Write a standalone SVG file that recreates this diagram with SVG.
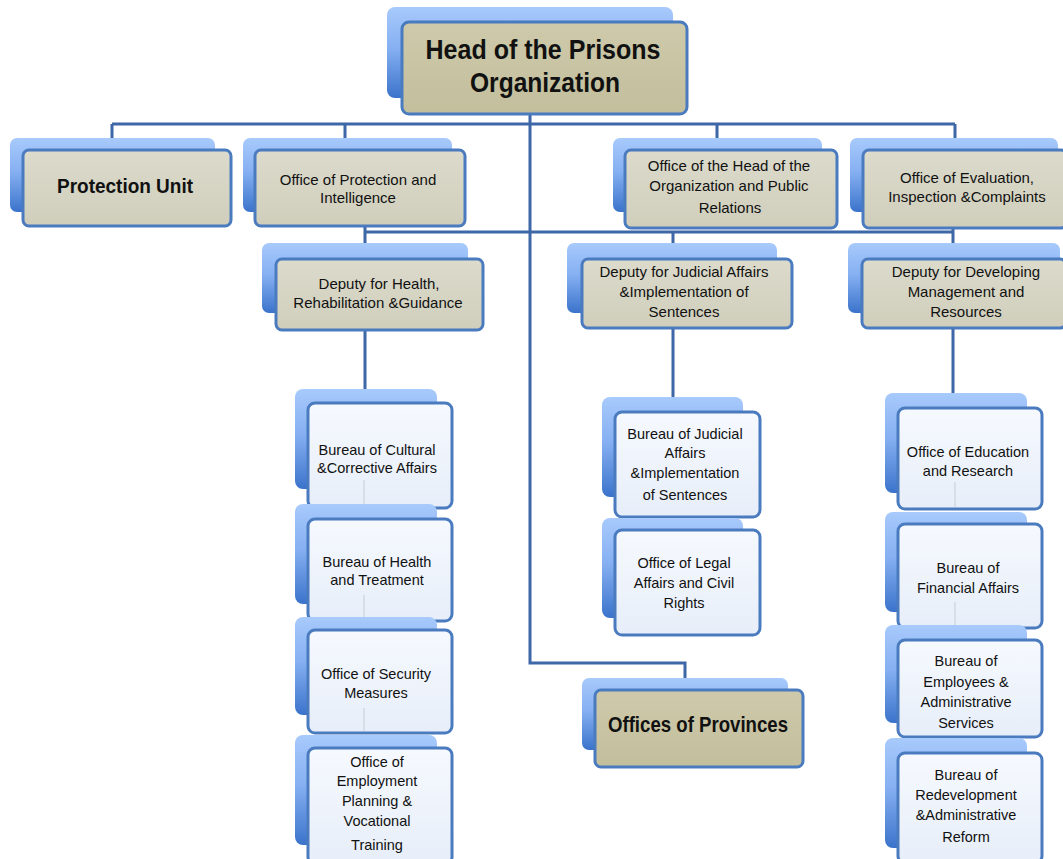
<svg xmlns="http://www.w3.org/2000/svg" width="1063" height="859" viewBox="0 0 1063 859">
<defs>
<linearGradient id="gb" x1="0" y1="0" x2="0" y2="1"><stop offset="0" stop-color="#a8cafc"/><stop offset="0.45" stop-color="#86b0f2"/><stop offset="1" stop-color="#3b73cb"/></linearGradient>
<linearGradient id="gk" x1="0" y1="0" x2="0" y2="1"><stop offset="0" stop-color="#dcdbcc"/><stop offset="1" stop-color="#d0cebb"/></linearGradient>
<linearGradient id="gt" x1="0" y1="0" x2="0" y2="1"><stop offset="0" stop-color="#cdc9aa"/><stop offset="1" stop-color="#c3bf9d"/></linearGradient>
<linearGradient id="gw" x1="0" y1="0" x2="0" y2="1"><stop offset="0" stop-color="#f6f9fe"/><stop offset="1" stop-color="#e7eef9"/></linearGradient>
<style>
.back{fill:url(#gb)}
.front{stroke:#4b7bbf;stroke-width:3}
.k{fill:url(#gk)}
.kt{fill:url(#gt)}
.w{fill:url(#gw)}
text{font-family:"Liberation Sans",Arial,sans-serif;fill:#111;text-anchor:middle}
.t{font-size:15px}
.s{font-size:14.5px}
.bt{font-weight:bold}
.conn{stroke:#3d67a6;stroke-width:3;fill:none}
.faint{stroke:#d9dee6;stroke-width:2;fill:none}
</style>
</defs>
<g id="connectors">
<path class="conn" d="M530 113 V663 H685 V680"/>
<path class="conn" d="M112 124 H955"/>
<path class="conn" d="M112 124 V140 M345 124 V140 M717 124 V140 M955 124 V140"/>
<path class="conn" d="M365 232 H953"/>
<path class="conn" d="M365 226 V245 M673 232 V245 M953 228 V245"/>
<path class="conn" d="M365 330 V392 M673 328 V400 M953 328 V396"/>
</g>
<g id="head">
<rect class="back" x="387" y="7" width="286" height="91" rx="8"/>
<rect class="front kt" x="402" y="22" width="285" height="92" rx="7"/>
<text class="bt" x="543" y="59" font-size="28" textLength="235" lengthAdjust="spacingAndGlyphs">Head of the Prisons</text>
<text class="bt" x="545" y="92" font-size="28" textLength="150" lengthAdjust="spacingAndGlyphs">Organization</text>
</g>
<g id="protection-unit">
<rect class="back" x="10" y="138" width="205" height="74" rx="7"/>
<rect class="front k" x="23" y="150" width="208" height="76" rx="6"/>
<text class="bt" x="125" y="193" font-size="20" textLength="136" lengthAdjust="spacingAndGlyphs">Protection Unit</text>
</g>
<g id="office-protection-intelligence">
<rect class="back" x="243" y="138" width="209" height="74" rx="7"/>
<rect class="front k" x="255" y="150" width="210" height="76" rx="6"/>
<text class="t" x="358" y="185">Office of Protection and</text>
<text class="t" x="358" y="203">Intelligence</text>
</g>
<g id="office-head-public-relations">
<rect class="back" x="613" y="138" width="209" height="74" rx="7"/>
<rect class="front k" x="625" y="150" width="212" height="78" rx="6"/>
<text class="t" x="729" y="171">Office of the Head of the</text>
<text class="t" x="729" y="191">Organization and Public</text>
<text class="t" x="730" y="213">Relations</text>
</g>
<g id="office-evaluation">
<rect class="back" x="850" y="138" width="208" height="74" rx="7"/>
<rect class="front k" x="863" y="150" width="204" height="78" rx="6"/>
<text class="t" x="967" y="183">Office of Evaluation,</text>
<text class="t" x="967" y="202">Inspection &amp;Complaints</text>
</g>
<g id="deputy-health">
<rect class="back" x="262" y="243" width="206" height="70" rx="7"/>
<rect class="front k" x="276" y="259" width="207" height="71" rx="6"/>
<text class="t" x="379" y="289">Deputy for Health,</text>
<text class="t" x="378" y="308">Rehabilitation &amp;Guidance</text>
</g>
<g id="deputy-judicial">
<rect class="back" x="567" y="243" width="210" height="70" rx="7"/>
<rect class="front k" x="582" y="259" width="210" height="69" rx="6"/>
<text class="t" x="684" y="277">Deputy for Judicial Affairs</text>
<text class="t" x="684" y="297">&amp;Implementation of</text>
<text class="t" x="684" y="317">Sentences</text>
</g>
<g id="deputy-developing">
<rect class="back" x="848" y="243" width="212" height="70" rx="7"/>
<rect class="front k" x="862" y="259" width="204" height="69" rx="6"/>
<text class="t" x="966" y="277">Deputy for Developing</text>
<text class="t" x="966" y="297">Management and</text>
<text class="t" x="966" y="317">Resources</text>
</g>
<g id="bureau-cultural">
<rect class="back" x="295" y="389" width="142" height="100" rx="8"/>
<rect class="front w" x="308" y="403" width="144" height="105" rx="7"/>
<path class="faint" d="M364 480 V506"/>
<text class="s" x="377" y="455">Bureau of Cultural</text>
<text class="s" x="377" y="473">&amp;Corrective Affairs</text>
</g>
<g id="bureau-health">
<rect class="back" x="295" y="504" width="142" height="100" rx="8"/>
<rect class="front w" x="308" y="519" width="144" height="102" rx="7"/>
<path class="faint" d="M364 595 V619"/>
<text class="s" x="377" y="567">Bureau of Health</text>
<text class="s" x="377" y="585">and Treatment</text>
</g>
<g id="office-security">
<rect class="back" x="295" y="617" width="142" height="98" rx="8"/>
<rect class="front w" x="308" y="630" width="144" height="103" rx="7"/>
<path class="faint" d="M364 708 V731"/>
<text class="s" x="376" y="679">Office of Security</text>
<text class="s" x="376" y="698">Measures</text>
</g>
<g id="office-employment">
<rect class="back" x="295" y="735" width="142" height="110" rx="8"/>
<rect class="front w" x="308" y="748" width="144" height="116" rx="7"/>
<text class="s" x="377" y="767">Office of</text>
<text class="s" x="377" y="786">Employment</text>
<text class="s" x="377" y="806">Planning &amp;</text>
<text class="s" x="377" y="826">Vocational</text>
<text class="s" x="377" y="850">Training</text>
</g>
<g id="bureau-judicial">
<rect class="back" x="602" y="397" width="141" height="100" rx="8"/>
<rect class="front w" x="615" y="412" width="145" height="105" rx="7"/>
<text class="s" x="685" y="439">Bureau of Judicial</text>
<text class="s" x="685" y="458">Affairs</text>
<text class="s" x="685" y="478">&amp;Implementation</text>
<text class="s" x="685" y="500">of Sentences</text>
</g>
<g id="office-legal">
<rect class="back" x="602" y="518" width="141" height="100" rx="8"/>
<rect class="front w" x="615" y="530" width="145" height="105" rx="7"/>
<text class="s" x="684" y="568">Office of Legal</text>
<text class="s" x="684" y="588">Affairs and Civil</text>
<text class="s" x="684" y="608">Rights</text>
</g>
<g id="office-education">
<rect class="back" x="885" y="393" width="142" height="100" rx="8"/>
<rect class="front w" x="898" y="408" width="144" height="101" rx="7"/>
<path class="faint" d="M955 482 V507"/>
<text class="s" x="968" y="457">Office of Education</text>
<text class="s" x="968" y="476">and Research</text>
</g>
<g id="bureau-financial">
<rect class="back" x="885" y="512" width="142" height="100" rx="8"/>
<rect class="front w" x="898" y="524" width="144" height="104" rx="7"/>
<path class="faint" d="M955 602 V626"/>
<text class="s" x="968" y="573">Bureau of</text>
<text class="s" x="968" y="593">Financial Affairs</text>
</g>
<g id="bureau-employees">
<rect class="back" x="885" y="625" width="142" height="98" rx="8"/>
<rect class="front w" x="898" y="640" width="144" height="97" rx="7"/>
<text class="s" x="966" y="666">Bureau of</text>
<text class="s" x="966" y="687">Employees &amp;</text>
<text class="s" x="966" y="707">Administrative</text>
<text class="s" x="966" y="728">Services</text>
</g>
<g id="bureau-redevelopment">
<rect class="back" x="885" y="738" width="142" height="110" rx="8"/>
<rect class="front w" x="898" y="753" width="144" height="110" rx="7"/>
<text class="s" x="966" y="780">Bureau of</text>
<text class="s" x="966" y="800">Redevelopment</text>
<text class="s" x="966" y="820">&amp;Administrative</text>
<text class="s" x="966" y="842">Reform</text>
</g>
<g id="offices-provinces">
<rect class="back" x="582" y="678" width="206" height="72" rx="7"/>
<rect class="front kt" x="595" y="690" width="208" height="77" rx="6"/>
<text class="bt" x="698" y="732" font-size="22" textLength="180" lengthAdjust="spacingAndGlyphs">Offices of Provinces</text>
</g>
</svg>
